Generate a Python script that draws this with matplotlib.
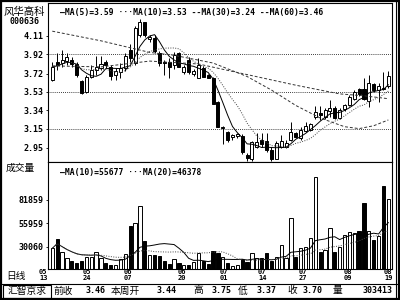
import numpy as np
import pandas as pd
import matplotlib
matplotlib.use("Agg")
import matplotlib.pyplot as plt
import matplotlib.transforms as mtransforms
from matplotlib.patches import Rectangle
from matplotlib.lines import Line2D

plt.rcParams['font.family'] = ['Noto Sans CJK SC', 'DejaVu Sans']

stock_name = '风华高科'
stock_code = '000636'

# daily candles
opens = [3.65, 3.84, 3.83, 3.85, 3.86, 3.82, 3.64, 3.53, 3.69, 3.76,
         3.78, 3.84, 3.79, 3.71, 3.74, 3.78, 3.97, 3.83, 4.12, 4.26,
         4.08, 4.09, 3.93, 3.84, 3.84, 3.81, 3.93, 3.74, 3.86, 3.72,
         3.67, 3.78, 3.71, 3.67, 3.43, 3.16, 3.12, 3.06, 3.07, 3.07,
         2.88, 2.83, 2.96, 3.03, 3.02, 2.93, 2.84, 2.96, 2.96, 3.03,
         3.10, 3.05, 3.13, 3.14, 3.27, 3.31, 3.27, 3.33, 3.36, 3.26,
         3.35, 3.39, 3.46, 3.56, 3.56, 3.44, 3.61, 3.55, 3.57, 3.59]
highs = [3.84, 3.93, 3.96, 3.93, 3.89, 3.84, 3.65, 3.71, 3.81, 3.90,
         3.90, 3.86, 3.81, 3.78, 3.83, 3.93, 4.03, 4.21, 4.29, 4.26,
         4.12, 4.12, 3.95, 3.86, 3.88, 3.94, 3.94, 3.81, 3.89, 3.77,
         3.88, 3.80, 3.72, 3.68, 3.44, 3.18, 3.13, 3.09, 3.10, 3.09,
         2.90, 3.02, 3.10, 3.10, 3.10, 2.96, 3.02, 3.08, 3.03, 3.22,
         3.12, 3.17, 3.22, 3.21, 3.38, 3.38, 3.36, 3.45, 3.38, 3.36,
         3.41, 3.50, 3.55, 3.57, 3.67, 3.71, 3.62, 3.62, 3.74, 3.75]
lows = [3.64, 3.76, 3.79, 3.81, 3.79, 3.69, 3.51, 3.52, 3.67, 3.71,
        3.76, 3.78, 3.65, 3.65, 3.67, 3.75, 3.84, 3.81, 4.10, 4.10,
        4.05, 3.93, 3.80, 3.71, 3.67, 3.77, 3.79, 3.72, 3.72, 3.70,
        3.67, 3.68, 3.67, 3.41, 3.17, 2.99, 3.01, 3.03, 3.05, 2.89,
        2.81, 2.81, 2.95, 2.96, 2.91, 2.81, 2.83, 2.95, 2.95, 3.02,
        3.05, 3.03, 3.12, 3.13, 3.25, 3.24, 3.25, 3.27, 3.25, 3.25,
        3.33, 3.38, 3.45, 3.49, 3.45, 3.37, 3.53, 3.43, 3.55, 3.57]
closes = [3.79, 3.81, 3.86, 3.89, 3.82, 3.71, 3.52, 3.68, 3.76, 3.79,
          3.82, 3.81, 3.70, 3.75, 3.78, 3.90, 3.88, 4.19, 4.26, 4.12,
          4.10, 3.95, 3.83, 3.83, 3.79, 3.91, 3.79, 3.79, 3.74, 3.75,
          3.81, 3.69, 3.67, 3.41, 3.17, 3.17, 3.03, 3.08, 3.09, 2.91,
          2.85, 3.01, 3.01, 2.99, 2.93, 2.83, 3.00, 3.02, 3.00, 3.12,
          3.06, 3.14, 3.18, 3.20, 3.32, 3.29, 3.34, 3.36, 3.26, 3.34,
          3.39, 3.48, 3.53, 3.51, 3.46, 3.62, 3.55, 3.59, 3.56, 3.70]
volumes = [28250, 38600, 23800, 17160, 14200, 11600, 14200, 19000, 19000, 23800,
           17160, 11600, 9760, 9760, 16050, 21600, 53000, 56000, 75570, 36380,
           20850, 20850, 20100, 14570, 10870, 16420, 12350, 9760, 9760, 13460,
           22700, 14570, 10870, 25290, 23440, 19000, 11600, 8650, 9760, 16050,
           13460, 22700, 17900, 17160, 23440, 14570, 18270, 31950, 17900, 61520,
           19000, 28250, 30100, 39340, 107000, 24550, 26400, 50430, 24550, 30100,
           43040, 46000, 44880, 47840, 78160, 47840, 37490, 41930, 97750, 82600]

# long averages (they need history before the first bar)
ma30_bars = [0, 10, 20, 25, 30, 33, 35, 40, 45, 50, 55, 60, 63, 66, 69]
ma30_vals = [4.16, 4.06, 3.94, 3.91, 3.86, 3.83, 3.79, 3.69, 3.55, 3.39,
             3.26, 3.17, 3.15, 3.18, 3.24]
ma60_bars = [0, 10, 20, 30, 40, 50, 59, 64, 69]
ma60_vals = [3.80, 3.79, 3.85, 3.82, 3.71, 3.60, 3.51, 3.49, 3.46]

price_ticks = [4.11, 3.92, 3.72, 3.53, 3.34, 3.15, 2.95]
grid_levels = [3.92, 3.53, 3.15]
vol_ticks = [81859, 55959, 30060]

date_months = ['05', '05', '06', '06', '07', '07', '07', '08', '08']
date_days = ['13', '24', '07', '20', '01', '14', '27', '09', '19']
date_pos = [-1.85, 7.0, 15.6, 26.7, 35.3, 43.1, 51.5, 60.6, 69.0]

price_legend = '—MA(5)=3.59 ···MA(10)=3.53 --MA(30)=3.24 --MA(60)=3.46'
vol_legend = '—MA(10)=55677 ···MA(20)=46378'

info_labels = ['前收', '本周开', '高', '低', '收', '量']
info_values = ['3.46', '3.44', '3.75', '3.37', '3.70', '303413']
label_x = [53, 111, 193, 238, 287, 333]
value_x = [106, 177, 232, 277, 323, 393]

W, H = 400, 300
mono = dict(family='DejaVu Sans Mono', weight='bold')


def fx(px):
    return px / W


def fy(py):
    return 1 - py / H


fig = plt.figure(figsize=(4, 3), dpi=100)
fig.patch.set_facecolor('white')

ax_p = fig.add_axes([fx(48), fy(162), (392 - 48) / W, (162 - 3) / H])
ax_v = fig.add_axes([fx(48), fy(269), (392 - 48) / W, (269 - 162) / H])

x = np.arange(len(closes))
o = np.array(opens)
hi = np.array(highs)
lo = np.array(lows)
c = np.array(closes)
up = c >= o
bw = 0.62

# price candles
ax_p.vlines(x, lo, hi, color='black', lw=0.7, zorder=2)
body_bot = np.minimum(o, c)
body_h = np.maximum(np.abs(c - o), 0.006)
ax_p.bar(x[up], body_h[up], bottom=body_bot[up], width=bw, color='white',
         edgecolor='black', linewidth=0.7, zorder=3)
ax_p.bar(x[~up], body_h[~up], bottom=body_bot[~up], width=bw, color='black',
         edgecolor='black', linewidth=0.7, zorder=3)

ma5 = pd.Series(c).rolling(5, min_periods=1).mean()
ma10 = pd.Series(c).rolling(10, min_periods=1).mean()
ax_p.plot(x, ma5, color='black', lw=0.7, zorder=4)
ax_p.plot(x, ma10, color='#444444', lw=0.7, ls=(0, (1, 1.5)), zorder=4)
ax_p.plot(ma30_bars, ma30_vals, color='#333333', lw=0.7, ls=(0, (3, 2)), zorder=4)
ax_p.plot(ma60_bars, ma60_vals, color='#333333', lw=0.7, ls=(0, (3, 2)), zorder=4)

for g in grid_levels:
    ax_p.axhline(g, color='black', lw=0.6, ls=(0, (1, 1.5)), zorder=1)

ax_p.set_xlim(-0.88, 69.75)
ax_p.set_ylim(2.804, 4.452)
ax_p.set_xticks([])
ax_p.set_yticks(price_ticks)
ax_p.set_yticklabels([f'{t:.2f}' for t in price_ticks], fontsize=6, **mono)
ax_p.tick_params(axis='y', length=1.5, width=0.6, pad=1.5)
ax_p.text(0.035, 0.94, price_legend, transform=ax_p.transAxes,
          fontsize=5.8, va='center', ha='left', **mono)

# volume bars
v = np.array(volumes)
ax_v.bar(x[up], v[up], width=bw + 0.05, color='white', edgecolor='black', linewidth=0.7)
ax_v.bar(x[~up], v[~up], width=bw + 0.05, color='black', edgecolor='black', linewidth=0.7)
vma10 = pd.Series(v).rolling(10, min_periods=1).mean()
vma20 = pd.Series(v).rolling(20, min_periods=1).mean()
ax_v.plot(x, vma10, color='black', lw=0.7)
ax_v.plot(x, vma20, color='#444444', lw=0.7, ls=(0, (1, 1.5)))
ax_v.set_xlim(-0.88, 69.75)
ax_v.set_ylim(5338, 124000)
ax_v.set_xticks([])
ax_v.set_yticks(vol_ticks)
ax_v.set_yticklabels([str(t) for t in vol_ticks], fontsize=6, **mono)
ax_v.tick_params(axis='y', length=1.5, width=0.6, pad=1.5)
ax_v.text(0.035, 0.9, vol_legend, transform=ax_v.transAxes,
          fontsize=5.8, va='center', ha='left', **mono)

for ax in (ax_p, ax_v):
    for s in ax.spines.values():
        s.set_linewidth(0.8)

# date labels under the volume panel
tr = mtransforms.blended_transform_factory(ax_v.transData, fig.transFigure)
for p, m, d in zip(date_pos, date_months, date_days):
    ax_v.text(p, fy(272.5), m, transform=tr, ha='center', va='center',
              fontsize=5, clip_on=False, **mono)
    ax_v.text(p, fy(278.5), d, transform=tr, ha='center', va='center',
              fontsize=5, clip_on=False, **mono)

# left header texts
fig.text(fx(4), fy(11.5), stock_name, fontsize=7.5, va='center', ha='left')
fig.text(fx(10), fy(21.5), stock_code, fontsize=6, va='center', ha='left', **mono)
fig.text(fx(6), fy(168), '成交量', fontsize=7, va='center', ha='left')
fig.text(fx(6), fy(276.5), '日线', fontsize=7, va='center', ha='left')

# bottom info bar
fig.add_artist(Line2D([fx(1), fx(399)], [fy(283.5), fy(283.5)], color='black', lw=0.8))
fig.add_artist(Rectangle((fx(3), fy(297.5)), fx(48), 13 / H, fill=False,
                         edgecolor='black', lw=0.8))
fig.text(fx(27), fy(290.5), '汇智京求', fontsize=7, va='center', ha='center')
for lab, lx, val, vx in zip(info_labels, label_x, info_values, value_x):
    fig.text(fx(lx), fy(290.5), lab, fontsize=7, va='center', ha='left')
    fig.text(fx(vx), fy(290.5), val, fontsize=6, va='center', ha='right', **mono)

# outer frame
fig.add_artist(Rectangle((0.002, 0.003), 0.996, 0.994, fill=False,
                         edgecolor='black', lw=1.6))
fig.add_artist(Line2D([fx(395.5), fx(395.5)], [0.003, 0.997], color='black', lw=0.8))

fig.savefig('out.png', dpi=100)
